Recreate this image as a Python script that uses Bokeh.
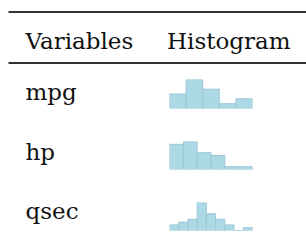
from bokeh.plotting import figure
from bokeh.layouts import column, row
from bokeh.models import Range1d
from bokeh.core.properties import value
from bokeh.embed import file_html
from bokeh.resources import INLINE

# ---- data ----
variables = ["mpg", "hp", "qsec"]
header = ["Variables", "Histogram"]

mpg_edges = [10, 15, 20, 25, 30, 35]
mpg_counts = [6, 12, 8, 2, 4]

hp_edges = [50, 100, 150, 200, 250, 300, 350]
hp_counts = [9, 10, 6, 5, 1, 1]

qsec_edges = [14, 15, 16, 17, 18, 19, 20, 21, 22, 23]
qsec_counts = [2, 3, 4, 10, 6, 4, 2, 0, 1]

FONT = "DejaVu Serif"
FS = "23px"
TXT = "#111111"
RULE = "#333333"
BAR_FILL = "#ADD8E6"
BAR_LINE = "#9CC8D6"


def blank(fig):
    fig.axis.visible = False
    fig.grid.visible = False
    fig.outline_line_color = None
    fig.background_fill_color = None
    fig.border_fill_color = None
    return fig


# header (page coordinates)
W = 306
HH = 64
hdr = blank(figure(width=W, height=HH, x_range=Range1d(0, W), y_range=Range1d(HH, 0),
                   output_backend="svg", toolbar_location=None, min_border=0))
hdr.segment(x0=[8, 8], y0=[11.4, 62.4], x1=[W, W], y1=[11.4, 62.4], line_color=RULE, line_width=2)
hdr.text(x=[25, 166.5], y=[40.5, 40.5], text=header, text_font=value(FONT), text_font_size=FS,
         text_color=TXT, text_baseline="alphabetic")

# labels
LW = 163
LH = 177
lab = blank(figure(width=LW, height=LH, x_range=Range1d(0, LW), y_range=Range1d(LH, 0),
                   output_backend="svg", toolbar_location=None, min_border=0))
lab.text(x=[25, 25, 25], y=[27.3, 87.0, 146.7], text=variables, text_font=value(FONT),
         text_font_size=FS, text_color=TXT, text_baseline="alphabetic")


def hist(edges, counts, top, fh, bottom):
    f = figure(frame_width=83, frame_height=fh, x_range=Range1d(edges[0], edges[-1]),
               y_range=Range1d(0, max(counts)), output_backend="svg", toolbar_location=None,
               min_border_left=6, min_border_right=54, min_border_top=top, min_border_bottom=bottom)
    blank(f)
    f.quad(left=edges[:-1], right=edges[1:], bottom=0, top=counts,
           fill_color=BAR_FILL, line_color=BAR_LINE, line_width=1)
    return f


h1 = hist(mpg_edges, mpg_counts, 15, 29, 16)
h2 = hist(hp_edges, hp_counts, 17, 28, 15)
h3 = hist(qsec_edges, qsec_counts, 18, 28, 11)

p = column(hdr, row(lab, column(h1, h2, h3, spacing=0), spacing=0), spacing=0)

open("out.html", "w").write(file_html(p, INLINE))
